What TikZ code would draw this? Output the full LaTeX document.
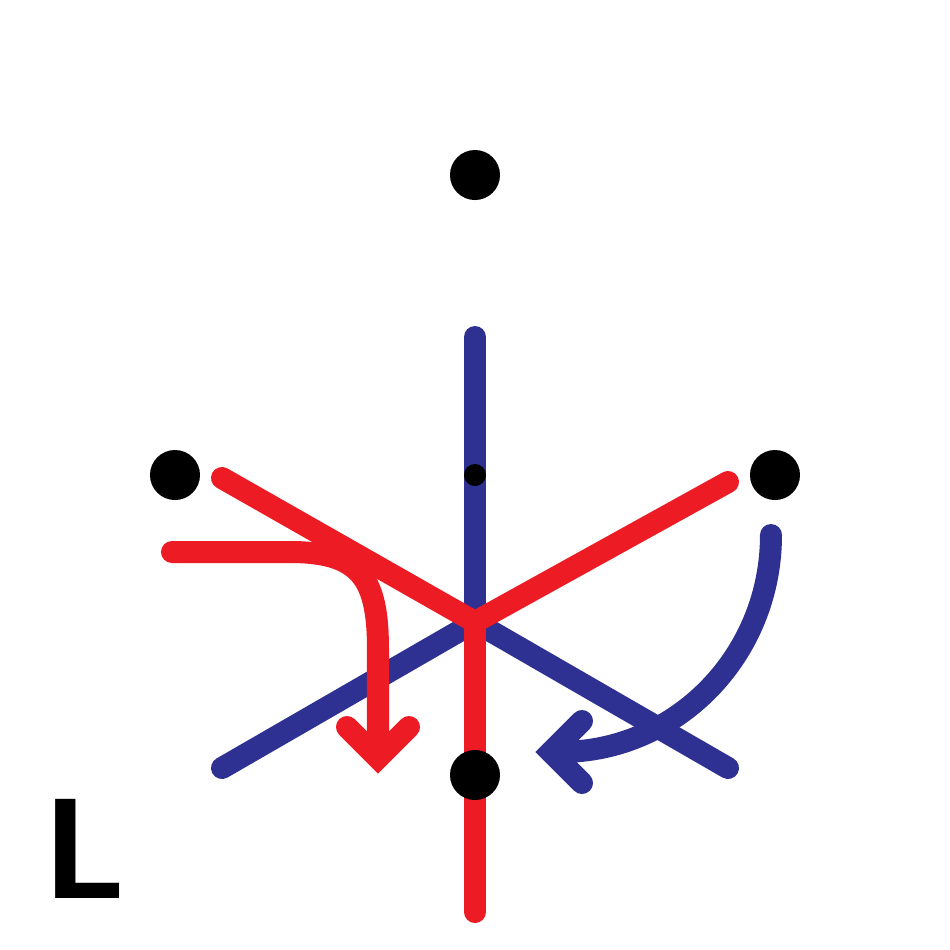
\documentclass[tikz,border=0pt]{standalone}
\usepackage{fontspec}
\newfontfamily\letterfont{Lato}
\definecolor{axisblue}{HTML}{2E3192}
\definecolor{axisred}{HTML}{ED1C24}
\tikzset{
  dot/.style={circle,fill=black,inner sep=0pt,minimum size=#1},
  dot/.default=5mm,
  stroke/.style={line width=2.2mm,line cap=round,line join=round},
  barb/.style={stroke,line join=miter}
}
\begin{document}
\begin{tikzpicture}[x=0.01cm,y=-0.01cm]
 \useasboundingbox (0,0) rectangle (950,950);
 % axes
 \coordinate (o) at (475,622);
 \coordinate (bt) at (475,337); \coordinate (bl) at (222,768); \coordinate (br) at (728,768);
 \coordinate (rl) at (222,478); \coordinate (rr) at (728,482); \coordinate (rb) at (475,912);
 \draw[stroke,axisblue] (bt) -- (o); \draw[stroke,axisblue] (bl) -- (o) -- (br);
 \draw[stroke,axisred] (rl) -- (o) -- (rr); \draw[stroke,axisred] (o) -- (rb);
 % turning arrows
 \coordinate (ra) at (172,552); \coordinate (rt) at (378,758);
 \draw[stroke,axisred] (ra) -- (290,552) .. controls (362,552) and (378,580) .. (378,650) -- (rt);
 \draw[barb,axisred] (347,727) -- (rt) -- (409,727);
 \coordinate (ba) at (771,535); \coordinate (btip) at (551,752);
 \draw[stroke,axisblue] (ba) .. controls (771,655) and (677,752) .. (560,752) -- (btip);
 \draw[barb,axisblue] (582,721) -- (btip) -- (582,783);
 % points
 \node[dot] (n) at (475,175) {}; \node[dot] (w) at (175,475) {};
 \node[dot] (e) at (775,475) {}; \node[dot] (s) at (475,775) {};
 \node[dot=2.2mm] (m) at (475,475) {};
 \node[anchor=base west,inner sep=0pt,xscale=1.1,font=\letterfont\bfseries\fontsize{39}{39}\selectfont] (lbl) at (43,898) {L};
\end{tikzpicture}
\end{document}
